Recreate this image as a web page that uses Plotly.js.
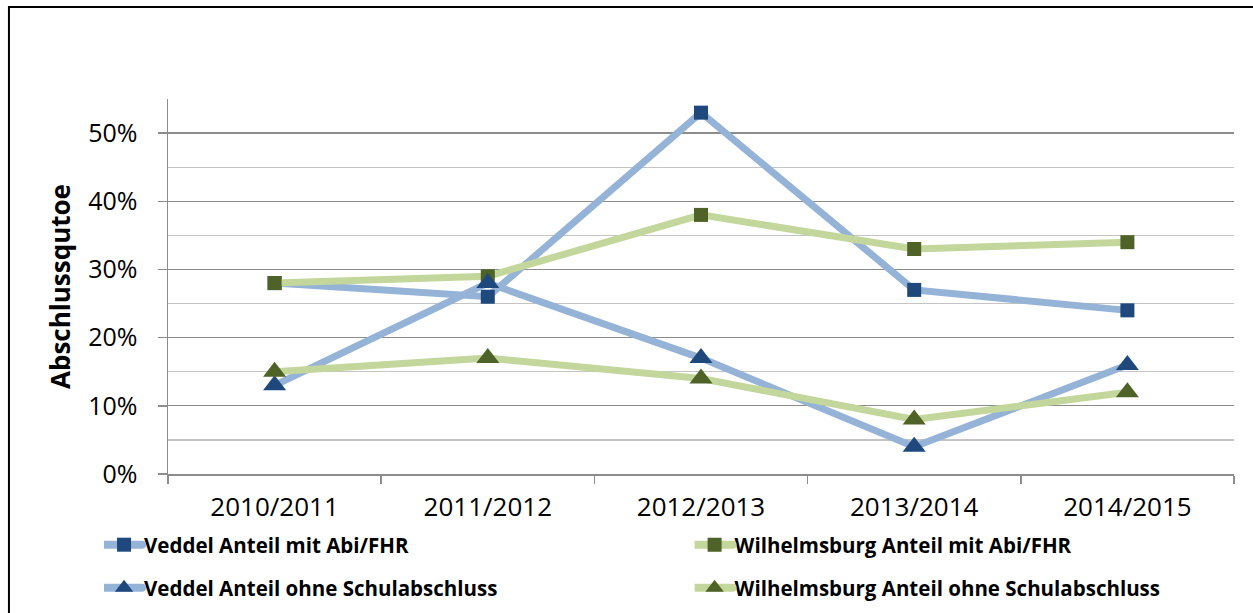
<!DOCTYPE html>
<html>
<head>
<meta charset="utf-8">
<script src="https://cdn.plot.ly/plotly-3.0.1.min.js"></script>
<style>
  html, body { margin: 0; padding: 0; background: #fff; }
  #chart { width: 1253px; height: 613px; }
  #chart .legendlines path { stroke-width: 8px !important; stroke-linecap: round !important; }
</style>
</head>
<body>
<div id="chart"></div>
<script>
// Abschlussquoten Veddel / Wilhelmsburg

const years = ["2010/2011", "2011/2012", "2012/2013", "2013/2014", "2014/2015"];

const veddelAbi = [0.28, 0.26, 0.53, 0.27, 0.24];
const wilhelmsburgAbi = [0.28, 0.29, 0.38, 0.33, 0.34];
const veddelOhne = [0.13, 0.28, 0.17, 0.04, 0.16];
const wilhelmsburgOhne = [0.15, 0.17, 0.14, 0.08, 0.12];

const seriesNames = [
  "Veddel Anteil mit Abi/FHR",
  "Wilhelmsburg Anteil mit Abi/FHR",
  "Veddel Anteil ohne Schulabschluss",
  "Wilhelmsburg Anteil ohne Schulabschluss",
];

const yTicks = [0, 0.1, 0.2, 0.3, 0.4, 0.5];
const yTickText = ["0%", "10%", "20%", "30%", "40%", "50%"];

const blueLine = "#95b3d7", blueMark = "#1f497d";
const greenLine = "#c3d69b", greenMark = "#4f6228";
const FONT = "'Open Sans', 'DejaVu Sans', sans-serif";

function trace(name, y, lineColor, markColor, symbol, size, legend) {
  return {
    type: "scatter", mode: "lines+markers", name: name,
    x: years, y: y,
    line: { color: lineColor, width: 7 },
    marker: { color: markColor, symbol: symbol, size: size, line: { width: 0 } },
    legend: legend,
    hoverinfo: "x+y+name",
  };
}

const traces = [
  trace(seriesNames[0], veddelAbi, blueLine, blueMark, "square", 14, "legend"),
  trace(seriesNames[1], wilhelmsburgAbi, greenLine, greenMark, "square", 14, "legend2"),
  trace(seriesNames[2], veddelOhne, blueLine, blueMark, "triangle-up", 20, "legend3"),
  trace(seriesNames[3], wilhelmsburgOhne, greenLine, greenMark, "triangle-up", 20, "legend4"),
];

function legendAt(x, y) {
  return {
    x: x, y: y, xanchor: "left", yanchor: "middle",
    orientation: "h", bgcolor: "rgba(0,0,0,0)", borderwidth: 0,
    font: { family: FONT, size: 20.5, color: "#000", weight: "bold" },
  };
}

const layout = {
  width: 1253, height: 613,
  margin: { l: 168, r: 19, t: 99, b: 139, autoexpand: false },
  paper_bgcolor: "#fff", plot_bgcolor: "#fff",
  font: { family: FONT, color: "#000" },
  showlegend: true,
  legend: legendAt(-0.060, -0.189),
  legend2: legendAt(0.494, -0.189),
  legend3: legendAt(-0.060, -0.304),
  legend4: legendAt(0.494, -0.304),
  xaxis: {
    type: "category", range: [-0.5, 4.5],
    showline: true, linecolor: "#8c8c8c", linewidth: 1.5,
    ticks: "outside", tickson: "boundaries", ticklen: 8, tickcolor: "#8c8c8c", tickwidth: 1.5,
    ticklabelstandoff: 9,
    showgrid: false, zeroline: false,
    tickfont: { family: FONT, size: 26, color: "#000" },
  },
  yaxis: {
    range: [0, 0.55], fixedrange: true,
    tickvals: yTicks, ticktext: yTickText,
    showline: true, linecolor: "#8c8c8c", linewidth: 1.5,
    ticks: "outside", ticklen: 9, tickcolor: "#8c8c8c", tickwidth: 1.5,
    ticklabelstandoff: 15,
    showgrid: true, gridcolor: "#8c8c8c", gridwidth: 1.3,
    minor: { dtick: 0.05, tick0: 0, showgrid: true, gridcolor: "#c4c4c4", gridwidth: 1.3, ticks: "" },
    zeroline: false,
    tickfont: { family: FONT, size: 25, color: "#000" },
    title: { text: "Abschlussqutoe", standoff: 10, font: { family: FONT, size: 26, color: "#000", weight: "bold" } },
  },
  shapes: [{
    type: "rect", xref: "paper", yref: "paper",
    x0: -0.1492, x1: 1.05, y0: -0.5, y1: 1.2453,
    line: { color: "#000", width: 2 }, fillcolor: "rgba(0,0,0,0)", layer: "above",
  }],
};

function stretchLegendLines(gd) {
  // longer legend lines, like the original
  gd.querySelectorAll(".legendlines path").forEach(function (p) {
    p.setAttribute("d", "M-14,0h52");
  });
}

Plotly.newPlot("chart", traces, layout, { displayModeBar: false, staticPlot: true }).then(function (gd) {
  stretchLegendLines(gd);
  setTimeout(function () { stretchLegendLines(gd); }, 50);
});
</script>
</body>
</html>
